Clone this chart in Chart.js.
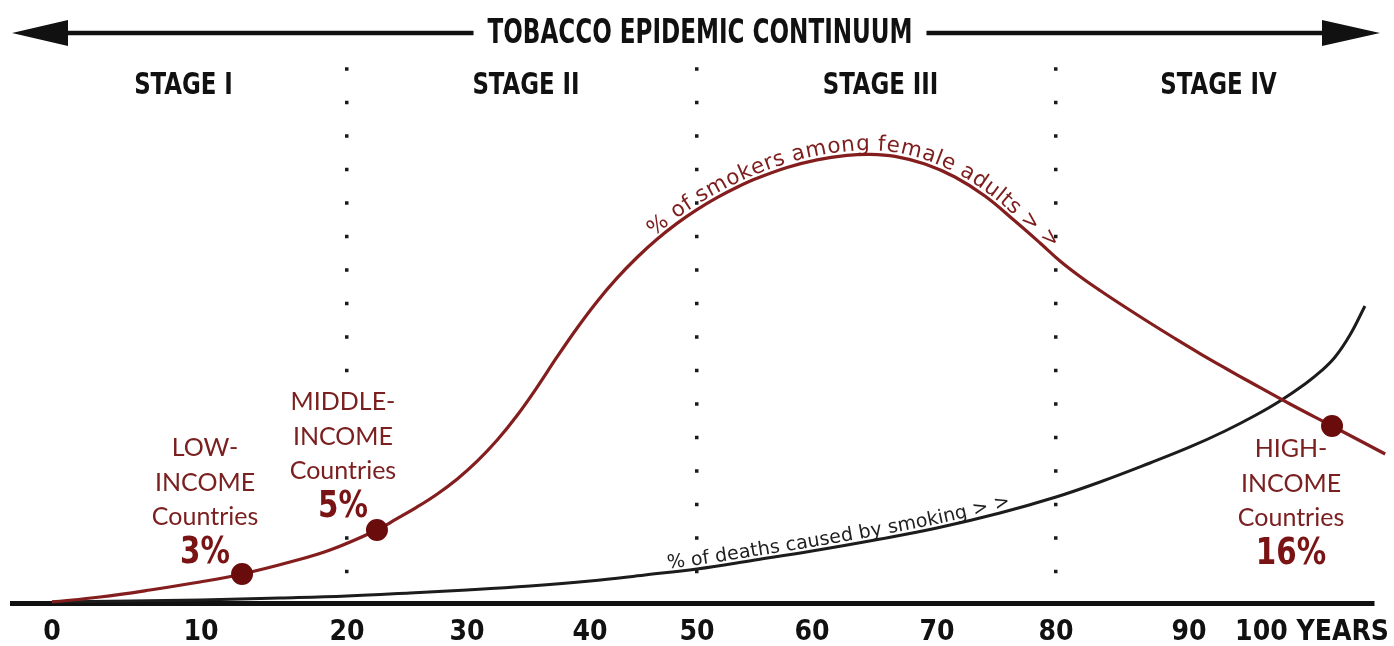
<!DOCTYPE html>
<html>
<head>
<meta charset="utf-8">
<title>Tobacco epidemic continuum</title>
<script src="https://cdn.jsdelivr.net/npm/chart.js@4.4.1/dist/chart.umd.min.js"></script>
<style>
  html, body { margin: 0; padding: 0; background: #fff; }
  canvas { display: block; }
</style>
</head>
<body>
<canvas id="chart" width="1394" height="646"></canvas>
<script>
// the original has no y scale, so levels are just relative heights (0-100)
const smokerYears = [0, 3.22, 6.58, 9.93, 12.81, 16.1, 18.84, 22.5, 24.17, 25.83, 27.5, 29.17, 30.81, 32.44, 34.07, 35.69, 37.32, 38.94, 40.65, 42.52, 44.39, 46.26, 48.13, 50, 51.74, 53.48, 55.22, 57.83, 60.4, 62.8, 64.64, 66.64, 69.04, 71.51, 74.03, 76.55, 78.66, 80.3, 81.8, 83.31, 85.19, 87.07, 88.95, 90.89, 92.93, 94.96, 98.21, 101.64, 106.0];
const smokerLevels = [0.19, 1.11, 2.41, 3.89, 5.37, 7.59, 9.81, 13.52, 15.63, 17.76, 20.15, 22.93, 26.22, 30.13, 34.72, 39.93, 45.56, 50.89, 55.8, 60.15, 63.98, 67.35, 70.3, 72.85, 75.07, 77.0, 78.65, 80.65, 82.07, 82.89, 83.09, 82.72, 81.3, 78.89, 75.37, 70.74, 66.67, 63.33, 60.46, 57.87, 54.81, 51.85, 48.98, 46.2, 43.52, 40.93, 36.85, 32.78, 27.59];

const deathYears = [0, 5.23, 10, 15.41, 20, 25.25, 30, 35.12, 40, 45.14, 50, 55.04, 60, 65.04, 70, 75.29, 80, 83.31, 87.07, 90.08, 92.93, 95.37, 97.4, 99.43, 100.66, 101.89, 103.11, 104.34];
const deathLevels = [0.19, 0.37, 0.56, 0.93, 1.3, 1.85, 2.41, 3.15, 4.07, 5.19, 6.3, 7.96, 9.63, 11.67, 13.89, 16.67, 19.63, 22.41, 25.93, 28.89, 31.85, 34.72, 37.41, 40.56, 42.78, 45.56, 49.63, 55.0];

const incomeGroups = [['LOW-', 'INCOME', 'Countries'], ['MIDDLE-', 'INCOME', 'Countries'], ['HIGH-', 'INCOME', 'Countries']];
const incomeShares = ['3%', '5%', '16%'];
const incomeYears = [12.81, 22.5, 101.64];
const incomeLevels = [5.37, 13.52, 32.78];

const yearTicks = [0, 10, 20, 30, 40, 50, 60, 70, 80, 90, 100];
const tickNames = ['0', '10', '20', '30', '40', '50', '60', '70', '80', '90', '100 YEARS'];
const stageNames = ['STAGE I', 'STAGE II', 'STAGE III', 'STAGE IV'];
const stageBreaks = [20, 50, 80];
const chartTitle = 'TOBACCO EPIDEMIC CONTINUUM';

const NARROW = "'Liberation Sans Narrow', 'DejaVu Sans Condensed', sans-serif";
const HUMAN = "Lato, 'Noto Sans', sans-serif";
const SCRIPT = "'DejaVu Sans', sans-serif";
const RED = '#841d1d';

// the year axis in the original is hand drawn and not evenly spaced,
// so the scale maps years onto the axis through these stops
const axisKnots = [[-2.7, 0], [0, .0294], [10, .1389], [20, .2461], [30, .3343], [40, .4247], [50, .5033],
  [60, .5878], [70, .6796], [80, .7671], [90, .8648], [100, .9552], [105, 1]];

function toDecimal(v) {
  let i = 1;
  while (i < axisKnots.length - 1 && v > axisKnots[i][0]) i++;
  const [v0, d0] = axisKnots[i - 1], [v1, d1] = axisKnots[i];
  return d0 + (v - v0) * (d1 - d0) / (v1 - v0);
}
function fromDecimal(d) {
  let i = 1;
  while (i < axisKnots.length - 1 && d > axisKnots[i][1]) i++;
  const [v0, d0] = axisKnots[i - 1], [v1, d1] = axisKnots[i];
  return v0 + (d - d0) * (v1 - v0) / (d1 - d0);
}

class WarpScale extends Chart.LinearScale {
  getPixelForValue(value) {
    if (value === null || isNaN(value)) return NaN;
    return this.getPixelForDecimal(toDecimal(value));
  }
  getValueForPixel(pixel) {
    return fromDecimal(this.getDecimalForPixel(pixel));
  }
}
WarpScale.id = 'warp';
WarpScale.defaults = {};
Chart.register(WarpScale);

const curveLabels = [
  { dataset: 1, text: '% of smokers among female adults > >', from: 46.2, to: 79.5, color: '#7d1d1d', size: 21.5, lift: 4 },
  { dataset: 0, text: '% of deaths caused by smoking > >', from: 47.3, to: 76.3, color: '#1e1e1e', size: 19, lift: 4 }
];
const groupLayout = [
  { dx: -37, dy: -126 },
  { dx: -34, dy: -128 },
  { dx: -41, dy: 23 }
];
const lineSteps = [0, 35, 69];
const shareStep = 105;

function fitted(ctx, text, x, y, size, squeeze, color) {
  ctx.save();
  ctx.font = `bold ${size}px ${NARROW}`;
  ctx.fillStyle = color;
  ctx.textAlign = 'center';
  ctx.textBaseline = 'middle';
  ctx.translate(x, y);
  ctx.scale(squeeze, 1);
  ctx.fillText(text, 0, 0);
  ctx.restore();
}

function sampleCurve(points) {
  const out = [];
  for (let i = 0; i < points.length - 1; i++) {
    const a = points[i], b = points[i + 1];
    const c1x = a.cp2x ?? a.x, c1y = a.cp2y ?? a.y, c2x = b.cp1x ?? b.x, c2y = b.cp1y ?? b.y;
    for (let k = 0; k < 24; k++) {
      const t = k / 24, u = 1 - t;
      out.push({
        x: u*u*u*a.x + 3*u*u*t*c1x + 3*u*t*t*c2x + t*t*t*b.x,
        y: u*u*u*a.y + 3*u*u*t*c1y + 3*u*t*t*c2y + t*t*t*b.y
      });
    }
  }
  const last = points[points.length - 1];
  out.push({ x: last.x, y: last.y });
  return out;
}

function textAlong(ctx, samples, text, xFrom, xTo, lift) {
  const cum = [0];
  for (let i = 1; i < samples.length; i++) {
    cum.push(cum[i-1] + Math.hypot(samples[i].x - samples[i-1].x, samples[i].y - samples[i-1].y));
  }
  const distAtX = x => {
    for (let i = 1; i < samples.length; i++) {
      if (samples[i].x >= x) {
        const f = (x - samples[i-1].x) / ((samples[i].x - samples[i-1].x) || 1);
        return cum[i-1] + f * (cum[i] - cum[i-1]);
      }
    }
    return cum[cum.length - 1];
  };
  const at = s => {
    let i = 1;
    while (i < cum.length - 1 && cum[i] < s) i++;
    const p = samples[i-1], q = samples[i];
    const f = (s - cum[i-1]) / ((cum[i] - cum[i-1]) || 1);
    return { x: p.x + f * (q.x - p.x), y: p.y + f * (q.y - p.y), a: Math.atan2(q.y - p.y, q.x - p.x) };
  };
  const s0 = distAtX(xFrom), s1 = distAtX(xTo);
  const chars = [...text];
  const widths = chars.map(ch => ctx.measureText(ch).width);
  const k = (s1 - s0) / widths.reduce((a, b) => a + b, 0);
  ctx.textAlign = 'center';
  ctx.textBaseline = 'alphabetic';
  let s = s0;
  chars.forEach((ch, i) => {
    const w = widths[i] * k;
    const p = at(s + w / 2);
    ctx.save();
    ctx.translate(p.x, p.y);
    ctx.rotate(p.a);
    ctx.fillText(ch, 0, -lift);
    ctx.restore();
    s += w;
  });
}

// where each line of an income note goes, relative to its dot
function noteLines(pt, i) {
  const lay = groupLayout[i];
  const cx = pt.x + lay.dx, top = pt.y + lay.dy;
  return { cx, ys: lineSteps.map(s => top + s), shareY: top + shareStep };
}

const decorations = {
  id: 'decorations',
  beforeDatasetsDraw(chart) {
    // the notes sit on a white ground that hides the dotted breaks behind them
    const { ctx } = chart;
    ctx.save();
    ctx.fillStyle = '#fff';
    ctx.font = `25px ${HUMAN}`;
    chart.getDatasetMeta(2).data.forEach((pt, i) => {
      const { cx, ys, shareY } = noteLines(pt, i);
      incomeGroups[i].forEach((line, j) => {
        const w = ctx.measureText(line).width;
        ctx.fillRect(cx - w / 2 - 3, ys[j] - 14, w + 6, 28);
      });
      ctx.fillRect(cx - 26, shareY - 18, 52, 36);
    });
    ctx.restore();
  },
  afterDraw(chart) {
    const { ctx, chartArea, scales } = chart;

    // title with the double arrow
    const titleX = 700, titleY = 33, titleW = 425;
    ctx.save();
    ctx.font = `bold 34px ${NARROW}`;
    const squeeze = titleW / ctx.measureText(chartTitle).width;
    ctx.restore();
    fitted(ctx, chartTitle, titleX, titleY + 1, 34, squeeze, '#111');
    ctx.save();
    ctx.strokeStyle = '#111';
    ctx.fillStyle = '#111';
    ctx.lineWidth = 4.5;
    ctx.beginPath();
    ctx.moveTo(60, titleY); ctx.lineTo(titleX - titleW / 2 - 14, titleY);
    ctx.moveTo(titleX + titleW / 2 + 14, titleY); ctx.lineTo(1330, titleY);
    ctx.stroke();
    ctx.beginPath();
    ctx.moveTo(12, titleY); ctx.lineTo(68, titleY - 13); ctx.lineTo(68, titleY + 13); ctx.closePath();
    ctx.moveTo(1380, titleY); ctx.lineTo(1322, titleY - 13); ctx.lineTo(1322, titleY + 13); ctx.closePath();
    ctx.fill();
    ctx.restore();

    // stage names between the dotted breaks
    const edges = [chartArea.left, ...stageBreaks.map(v => scales.x.getPixelForValue(v)), chartArea.right];
    stageNames.forEach((name, i) => {
      fitted(ctx, name, (edges[i] + edges[i + 1]) / 2 + 4, 86, 31, 0.82, '#111');
    });

    // labels written along the curves
    curveLabels.forEach(lab => {
      const samples = sampleCurve(chart.getDatasetMeta(lab.dataset).data);
      ctx.save();
      ctx.font = `${lab.size}px ${SCRIPT}`;
      ctx.fillStyle = lab.color;
      textAlong(ctx, samples, lab.text, scales.x.getPixelForValue(lab.from), scales.x.getPixelForValue(lab.to), lab.lift);
      ctx.restore();
    });

    // income group notes next to the dots
    chart.getDatasetMeta(2).data.forEach((pt, i) => {
      const { cx, ys, shareY } = noteLines(pt, i);
      ctx.save();
      ctx.font = `25px ${HUMAN}`;
      ctx.fillStyle = '#7b2020';
      ctx.textAlign = 'center';
      ctx.textBaseline = 'middle';
      incomeGroups[i].forEach((line, j) => ctx.fillText(line, cx, ys[j]));
      ctx.restore();
      fitted(ctx, incomeShares[i], cx, shareY, 38, 0.86, '#7a1414');
    });
  }
};

const pairs = (xs, ys) => xs.map((x, i) => ({ x, y: ys[i] }));

new Chart(document.getElementById('chart'), {
  type: 'line',
  data: {
    datasets: [
      {
        label: '% of deaths caused by smoking',
        data: pairs(deathYears, deathLevels),
        borderColor: '#1c1c1c',
        borderWidth: 3,
        pointRadius: 0,
        tension: 0.4,
        clip: false,
        order: 2
      },
      {
        label: '% of smokers among female adults',
        data: pairs(smokerYears, smokerLevels),
        borderColor: RED,
        borderWidth: 3.2,
        pointRadius: 0,
        tension: 0.4,
        clip: false,
        order: 1
      },
      {
        label: 'Income groups',
        data: pairs(incomeYears, incomeLevels),
        showLine: false,
        pointRadius: 11,
        pointBackgroundColor: '#6b0c0c',
        pointBorderWidth: 0,
        clip: false,
        order: 0
      }
    ]
  },
  options: {
    responsive: false,
    animation: false,
    events: [],
    elements: { line: { capBezierPoints: false } },
    layout: { padding: { left: 12, right: 21, top: 63, bottom: 0 } },
    plugins: { legend: { display: false }, tooltip: { enabled: false } },
    scales: {
      x: {
        type: 'warp',
        min: -2.7,
        max: 105,
        afterBuildTicks: s => { s.ticks = yearTicks.map(v => ({ value: v })); },
        afterFit: s => {
          s.height = 43;
          // the last label may hang past the axis end, as in the original
          s.paddingLeft = 0;
          s.paddingRight = 0;
        },
        ticks: {
          autoSkip: false,
          maxRotation: 0,
          padding: 13,
          color: '#111',
          font: { family: NARROW, size: 28, weight: 'bold' },
          callback: (v, i) => tickNames[i]
        },
        grid: {
          drawTicks: false,
          lineWidth: 3.5,
          color: c => (c.tick && stageBreaks.includes(c.tick.value)) ? '#1a1a1a' : 'rgba(0,0,0,0)'
        },
        border: { display: true, width: 5, color: '#111', dash: [3.5, 30], dashOffset: 29.25 }
      },
      y: { display: false, min: 0, max: 100 }
    }
  },
  plugins: [decorations]
});
</script>
</body>
</html>
